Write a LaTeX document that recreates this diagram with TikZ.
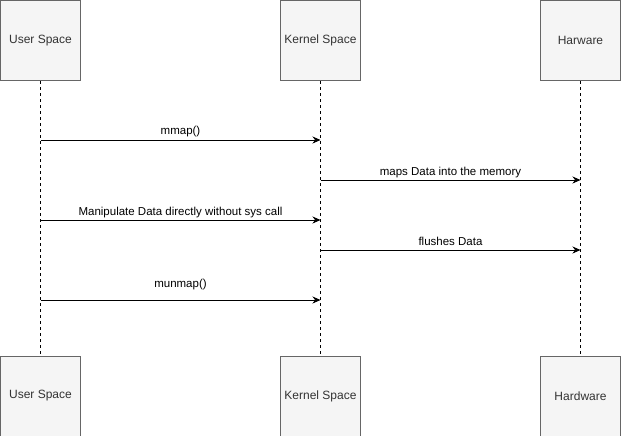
\documentclass[tikz,border=0pt]{standalone}
\usepackage{fontspec}
\setmainfont{Liberation Sans}
\usetikzlibrary{arrows.meta}
\definecolor{boxfill}{HTML}{F5F5F5}
\definecolor{boxline}{HTML}{666666}
\definecolor{boxtext}{HTML}{333333}
\tikzset{
	party/.style={rectangle,draw=boxline,fill=boxfill,line width=1pt,
		minimum width=80pt,minimum height=80pt,text=boxtext,
		font=\fontsize{12}{14}\selectfont},
	lifeline/.style={dashed,line width=0.8pt,dash pattern=on 3pt off 3pt},
	msg/.style={line width=0.8pt,-{Stealth[length=8pt,width=7pt]}},
	msglabel/.style={font=\fontsize{11.5}{13}\selectfont,anchor=base}
}
\begin{document}
\begin{tikzpicture}[x=1pt,y=-1pt]
		\useasboundingbox (0,0) rectangle (621,436);
		% participants
		\node[party] (UT) at (40.5,40.5) {User Space};
		\node[party] (KT) at (320.5,40.5) {Kernel Space};
		\node[party] (HT) at (580.5,40.5) {Harware};
		\node[party] (UB) at (40.5,396) {User Space};
		\node[party] (KB) at (320.5,396) {Kernel Space};
		\node[party] (HB) at (580.5,396) {Hardware};
		\draw[lifeline] (UT) -- (UB);
		\draw[lifeline] (KT) -- (KB);
		\draw[lifeline] (HT) -- (HB);
		% messages
		\coordinate (u1) at (40.5,140); \coordinate (k1) at (320.5,140);
		\coordinate (k2) at (320.5,180); \coordinate (h2) at (580.5,180);
		\coordinate (u3) at (40.5,220); \coordinate (k3) at (320.5,220);
		\coordinate (k4) at (320.5,250); \coordinate (h4) at (580.5,250);
		\coordinate (u5) at (40.5,300); \coordinate (k5) at (320.5,300);
		\draw[msg] (u1) -- (k1);
		\draw[msg] (k2) -- (h2);
		\draw[msg] (u3) -- (k3);
		\draw[msg] (k4) -- (h4);
		\draw[msg] (u5) -- (k5);
		\node[msglabel] (l1) at (180.5,134.5) {mmap()};
		\node[msglabel] (l2) at (450.5,175.5) {maps Data into the memory};
		\node[msglabel] (l3) at (180.5,215.5) {Manipulate Data directly without sys call};
		\node[msglabel] (l4) at (450.5,245.5) {flushes Data};
		\node[msglabel] (l5) at (180.5,287.5) {munmap()};
	\end{tikzpicture}
\end{document}
